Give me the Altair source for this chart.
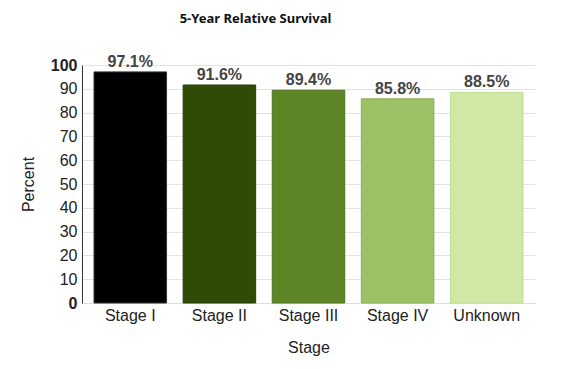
import altair as alt
import pandas as pd

stages = ["Stage I", "Stage II", "Stage III", "Stage IV", "Unknown"]
values = [97.1, 91.6, 89.4, 85.8, 88.5]
colors = ["#000000", "#2f4b05", "#5e8526", "#9dc165", "#cfe8a5"]
strokes = ["#333333", "#27400a", "#50731f", "#8aab58", "#c2dc98"]
yticks = [0, 10, 20, 30, 40, 50, 60, 70, 80, 90, 100]

df = pd.DataFrame({"Stage": stages, "Percent": values})
df["label"] = [f"{v:.1f}%" for v in values]

x = alt.X("Stage:N", sort=stages, title="Stage",
          scale=alt.Scale(paddingInner=0.186, paddingOuter=0.135),
          axis=alt.Axis(labelAngle=0, labelFont="Liberation Sans", labelFontSize=16,
                        labelColor="#222", titleFont="Liberation Sans", titleFontSize=16,
                        titleFontWeight="normal", titleColor="#222", titlePadding=16,
                        ticks=False, domainColor="#ddd", labelPadding=4))

y = alt.Y("Percent:Q", title="Percent",
          scale=alt.Scale(domain=[0, 100], nice=False),
          axis=alt.Axis(values=yticks, ticks=False, labelOverlap=False,
                        labelFont="Liberation Sans", labelFontSize=16, labelColor="#222",
                        labelFontWeight={"condition": {"test": "datum.value == 0 || datum.value == 100", "value": "bold"}, "value": "normal"},
                        titleFont="Liberation Sans", titleFontSize=16, titleFontWeight="normal",
                        titleColor="#222", titlePadding=14, domainColor="#333",
                        gridColor="#e3e3e3", labelPadding=5))

base = alt.Chart(df).encode(x=x, y=y)

bars = base.mark_bar(strokeWidth=1).encode(
    color=alt.Color("Stage:N", sort=stages, scale=alt.Scale(domain=stages, range=colors), legend=None),
    stroke=alt.Stroke("Stage:N", sort=stages, scale=alt.Scale(domain=stages, range=strokes), legend=None),
)

text = base.mark_text(baseline="alphabetic", dy=-5, font="Liberation Sans", fontSize=16,
                      fontWeight="bold", color="#444").encode(text="label:N")

chart = (bars + text).properties(
    width=453, height=238,
    title=alt.TitleParams("5-Year Relative Survival", font="Noto Sans", fontSize=13,
                          fontWeight="bold", color="#111", offset=28, anchor="middle", dx=-53),
    padding={"left": 74, "top": 57, "right": 10, "bottom": 60},
    autosize=alt.AutoSizeParams(type="none"),
).configure_view(stroke=None)

chart.save("out.html", embed_options={"renderer": "svg", "actions": False})
